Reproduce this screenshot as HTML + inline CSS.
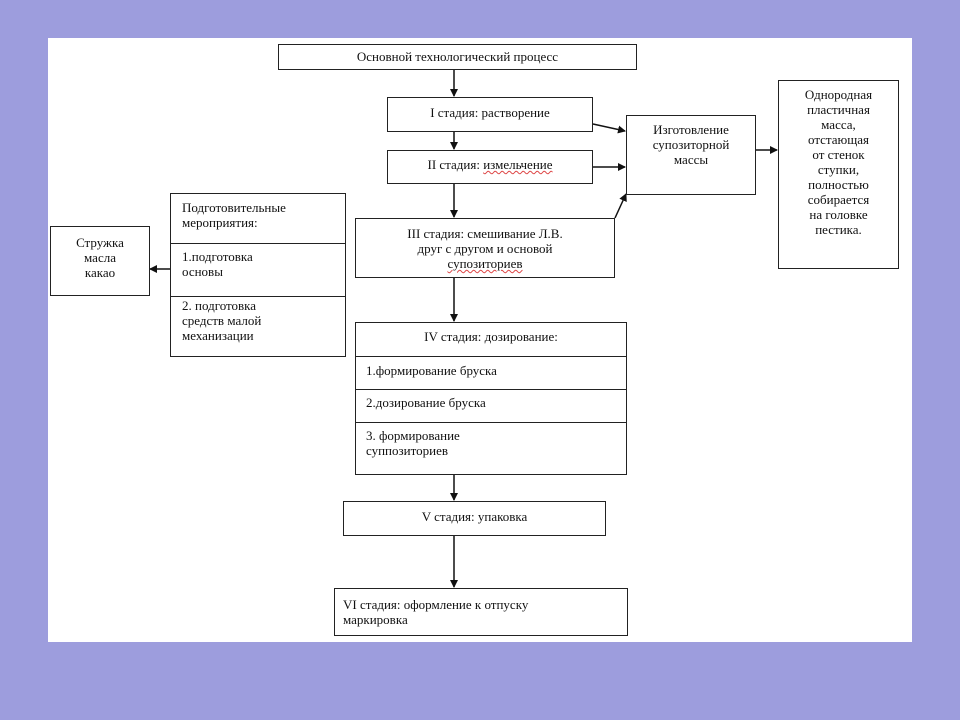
<!DOCTYPE html>
<html><head><meta charset="utf-8"><style>
body{margin:0;width:960px;height:720px;background:#9d9ddd;position:relative;overflow:hidden;font-family:"Liberation Serif",serif;font-size:13px;color:#111}
.p{position:absolute;left:48px;top:38px;width:864px;height:604px;background:#fff}
.b{position:absolute;border:1.5px solid #222;box-sizing:border-box;background:#fff;line-height:15px}
.c{text-align:center}
.d{position:absolute;left:0;right:0;border-top:1.5px solid #222}
svg{position:absolute;left:0;top:0}
u{text-decoration:underline wavy #d44;text-decoration-thickness:1px}
</style></head><body>
<div class="p"></div>
<svg width="960" height="720"><defs><marker id="a" markerWidth="8" markerHeight="8" refX="7" refY="4" orient="auto" markerUnits="userSpaceOnUse"><path d="M0,0L8,4L0,8z" fill="#111"/></marker></defs>
<g stroke="#111" stroke-width="1.5" marker-end="url(#a)">
<line x1="454" y1="69" x2="454" y2="96"/>
<line x1="454" y1="131" x2="454" y2="149"/>
<line x1="454" y1="183" x2="454" y2="217"/>
<line x1="454" y1="277" x2="454" y2="321"/>
<line x1="454" y1="474" x2="454" y2="500"/>
<line x1="454" y1="535" x2="454" y2="587"/>
<line x1="593" y1="124" x2="625" y2="131"/>
<line x1="593" y1="167" x2="625" y2="167"/>
<line x1="615" y1="218" x2="626" y2="194"/>
<line x1="755" y1="150" x2="777" y2="150"/>
<line x1="170" y1="269" x2="150" y2="269"/>
</g></svg>
<div class="b c" style="left:278px;top:44px;width:359px;height:26px;padding-top:4px">Основной технологический процесс</div>
<div class="b c" style="left:387px;top:97px;width:206px;height:35px;padding-top:7px">I стадия: растворение</div>
<div class="b c" style="left:387px;top:150px;width:206px;height:34px;padding-top:6px">II стадия: <u>измельчение</u></div>
<div class="b c" style="left:355px;top:218px;width:260px;height:60px;padding-top:7px">III стадия: смешивание Л.В.<br>друг с другом и основой<br><u>супозиториев</u></div>
<div class="b c" style="left:626px;top:115px;width:130px;height:80px;padding-top:6px">Изготовление<br>супозиторной<br>массы</div>
<div class="b c" style="left:778px;top:80px;width:121px;height:189px;padding-top:6px">Однородная<br>пластичная<br>масса,<br>отстающая<br>от стенок<br>ступки,<br>полностью<br>собирается<br>на головке<br>пестика.</div>
<div class="b" style="left:170px;top:193px;width:176px;height:164px;padding-left:11px;padding-top:6px">Подготовительные<br>мероприятия:<div class="d" style="top:49px"></div><div style="position:absolute;top:55px;left:11px">1.подготовка<br>основы</div><div class="d" style="top:102px"></div><div style="position:absolute;top:104px;left:11px">2. подготовка<br>средств малой<br>механизации</div></div>
<div class="b c" style="left:50px;top:226px;width:100px;height:70px;padding-top:8px">Стружка<br>масла<br>какао</div>
<div class="b" style="left:355px;top:322px;width:272px;height:153px"><div class="c" style="padding-top:6px">IV стадия: дозирование:</div><div class="d" style="top:33px"></div><div style="position:absolute;top:40px;left:10px">1.формирование бруска</div><div class="d" style="top:66px"></div><div style="position:absolute;top:72px;left:10px">2.дозирование бруска</div><div class="d" style="top:99px"></div><div style="position:absolute;top:105px;left:10px">3. формирование<br>суппозиториев</div></div>
<div class="b c" style="left:343px;top:501px;width:263px;height:35px;padding-top:7px">V стадия: упаковка</div>
<div class="b" style="left:334px;top:588px;width:294px;height:48px;padding:8px 0 0 8px">VI стадия: оформление к отпуску<br>маркировка</div>
</body></html>
